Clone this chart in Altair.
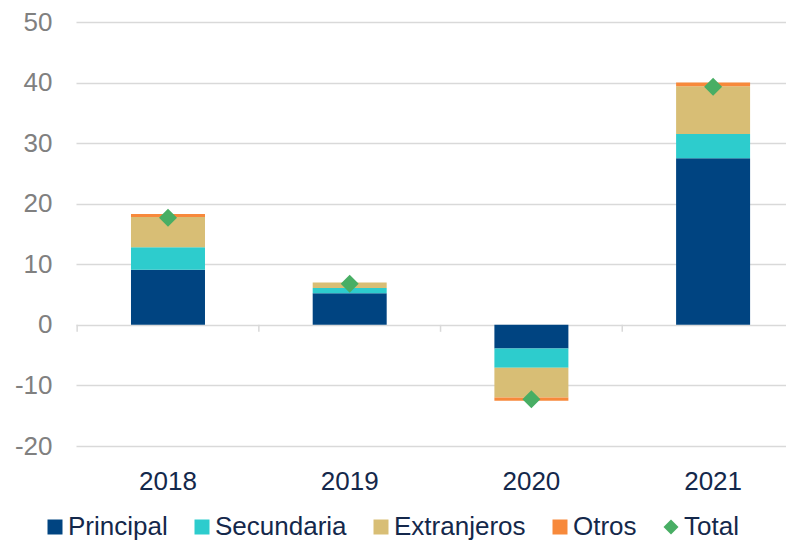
import altair as alt
import pandas as pd

years = ["2018", "2019", "2020", "2021"]
series = ["Principal", "Secundaria", "Extranjeros", "Otros"]
principal = [9.1, 5.2, -3.9, 27.5]
secundaria = [3.7, 0.9, -3.2, 4.0]
extranjeros = [5.0, 0.9, -4.9, 7.9]
otros = [0.5, 0.0, -0.55, 0.6]
total = [17.7, 6.8, -12.3, 39.3]

colors = ["#004481", "#2dcccd", "#d8be75", "#f7893b", "#48ae64"]
legend_items = series + ["Total"]
y_ticks = [-20, -10, 0, 10, 20, 30, 40, 50]

rows = []
for s_i, (name, vals) in enumerate(zip(series, [principal, secundaria, extranjeros, otros])):
    for y, v in zip(years, vals):
        rows.append({"year": y, "serie": name, "value": v, "ord": s_i})
bars_df = pd.DataFrame(rows)
tot_df = pd.DataFrame({"year": years, "serie": ["Total"] * 4, "value": total})
tick_df = pd.DataFrame({"year": years})

FONT = "Liberation Sans"
TEXT = "#14284b"

x_scale = alt.Scale(domain=years, paddingInner=0.5927, paddingOuter=0.2501, align=0.605)
x_enc = alt.X(
    "year:N",
    sort=years,
    title=None,
    scale=x_scale,
    axis=alt.Axis(domain=False, ticks=False, labelPadding=22, labelFontSize=26,
                  labelFont=FONT, labelColor=TEXT, labelAngle=0, grid=False),
)
y_scale = alt.Scale(domain=[-20, 50], nice=False, zero=False)
y_axis = alt.Axis(values=y_ticks, domain=False, ticks=False, tickSize=0, labelPadding=24,
                  labelFontSize=26, labelFont=FONT, labelColor="#808080",
                  labelExpr="'' + datum.value",
                  grid=True, gridColor="#d9d9d9", gridWidth=1.5)

color_scale = alt.Scale(domain=legend_items, range=colors)
legend = alt.Legend(
    orient="none", legendX=-34, legendY=492, direction="horizontal", columns=5,
    title=None, labelFontSize=26, labelFont=FONT, labelColor=TEXT,
    symbolSize=225, symbolStrokeWidth=0, labelOffset=0, columnPadding=21,
    padding=0, symbolOpacity=1,
)

bars = alt.Chart(bars_df).mark_bar(size=74).encode(
    x=x_enc,
    y=alt.Y("value:Q", scale=y_scale, axis=y_axis, title=None, stack="zero"),
    color=alt.Color("serie:N", scale=color_scale, legend=legend),
    order=alt.Order("ord:Q"),
)

points = alt.Chart(tot_df).mark_point(filled=True, size=324, opacity=1, strokeWidth=0).encode(
    x=alt.X("year:N", sort=years),
    y=alt.Y("value:Q"),
    color=alt.Color("serie:N", scale=color_scale, legend=legend),
    shape=alt.Shape("serie:N",
                    scale=alt.Scale(domain=legend_items,
                                    range=["square", "square", "square", "square", "diamond"]),
                    legend=legend),
)

ticks = alt.Chart(tick_df).mark_rule(color="#d9d9d9", strokeWidth=1.5, xOffset=-90.85).encode(
    x=alt.X("year:N", sort=years),
    y=alt.datum(0),
    y2=alt.datum(-1.15),
)

chart = alt.layer(bars, ticks, points).properties(
    width=710, height=424,
    padding={"left": 68, "top": 14, "right": 0, "bottom": 96},
    autosize=alt.AutoSizeParams(type="none"),
).configure(font=FONT).configure_view(strokeWidth=0).configure_axisY(
    domain=False, ticks=False
).configure_axisX(
    domain=False, ticks=False, grid=False
)

chart.save("out.html", embed_options={"renderer": "svg", "actions": False})
